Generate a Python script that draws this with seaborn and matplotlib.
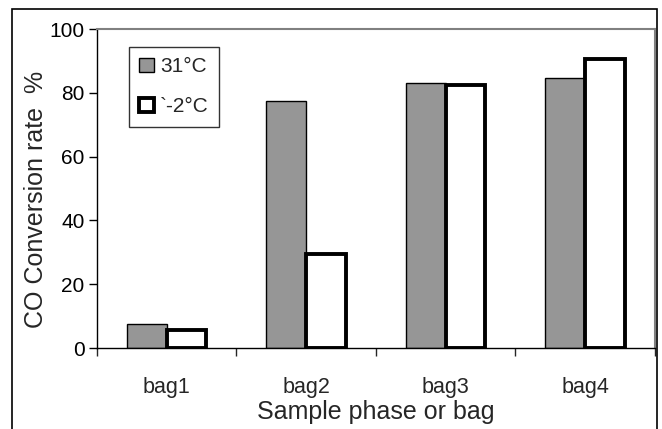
import matplotlib
matplotlib.use('Agg')
import matplotlib.pyplot as plt
from matplotlib.patches import Patch, Rectangle
import seaborn as sns
import pandas as pd

# Datos
fases = ['bag1', 'bag2', 'bag3', 'bag4']
conv_31 = [7.5, 77.5, 83.0, 84.5]
conv_m2 = [5.5, 29.5, 82.5, 90.5]
series = ['31°C', '`-2°C']

df = pd.DataFrame({
    'fase': fases * 2,
    'conversion': conv_31 + conv_m2,
    'serie': [series[0]] * len(fases) + [series[1]] * len(fases),
})

sns.set_style('white')
plt.rcParams['font.family'] = ['Liberation Sans', 'DejaVu Sans']

fig = plt.figure(figsize=(6.62, 4.29), dpi=100)
ax = fig.add_axes([0.1465, 0.1888, 0.8429, 0.7436])

sns.barplot(data=df, x='fase', y='conversion', hue='serie',
            palette=['#969696', 'white'], width=0.57, gap=0,
            edgecolor='black', legend=False, ax=ax)

# borde fino para gris, borde grueso para blanco
for cont, lw in zip(ax.containers, [1.0, 2.8]):
    for bar in cont:
        bar.set_linewidth(lw)
        bar.set_edgecolor('black')

ax.set_ylim(0, 100)
ax.set_xlim(-0.5, 3.5)
ax.set_yticks([0, 20, 40, 60, 80, 100])
ax.tick_params(axis='y', labelsize=15, length=6, width=1, direction='out',
               left=True, colors='black', pad=3)
ax.tick_params(axis='x', which='major', labelsize=15.5, length=0, pad=21)
ax.set_xticks([-0.5, 0.5, 1.5, 2.5, 3.5], minor=True)
ax.tick_params(axis='x', which='minor', length=6, width=1, direction='out', bottom=True)

ax.set_xlabel('Sample phase or bag', fontsize=18, labelpad=1)
ax.set_ylabel('CO Conversion rate  %', fontsize=18)
ax.yaxis.set_label_coords(-0.088, 0.467)

for s in ['left', 'bottom']:
    ax.spines[s].set_color('black')
    ax.spines[s].set_linewidth(1)
for s in ['top', 'right']:
    ax.spines[s].set_color('#808080')
    ax.spines[s].set_linewidth(1.5)

manejadores = [
    Patch(facecolor='#969696', edgecolor='black', linewidth=1.0, label=series[0]),
    Patch(facecolor='white', edgecolor='black', linewidth=2.8, label=series[1]),
]
leg = ax.legend(handles=manejadores, loc='upper left', bbox_to_anchor=(0.057, 0.944),
                borderaxespad=0, fontsize=15, frameon=True, fancybox=False,
                handlelength=0.7, handleheight=0.7, handletextpad=0.3,
                labelspacing=1.0, borderpad=0.5)
leg.get_frame().set_edgecolor('black')
leg.get_frame().set_linewidth(1)

# marco exterior del grafico
fig.patches.append(Rectangle((12 / 662, -0.05), (657 - 12) / 662, 1 - 9 / 429 + 0.05,
                             transform=fig.transFigure, fill=False,
                             edgecolor='black', linewidth=1.2))

fig.savefig('out.png', dpi=100)
